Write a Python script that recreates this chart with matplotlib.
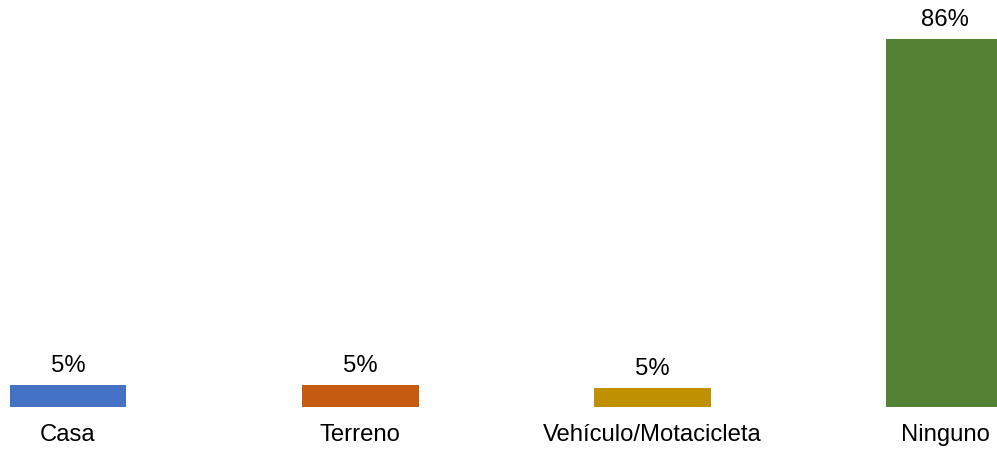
import matplotlib
matplotlib.use("Agg")
from matplotlib import pyplot as plt

# datos del grafico
categorias = ["Casa", "Terreno", "Vehículo/Motacicleta", "Ninguno"]
valores = [5.1, 5.1, 4.4, 86.0]
etiquetas = ["5%", "5%", "5%", "86%"]
colores = ["#4472C4", "#C55A11", "#BF9000", "#548235"]

plt.rcParams['font.family'] = ['Liberation Sans', 'DejaVu Sans']

fig = plt.figure(figsize=(9.97, 4.5), dpi=100)
ax = fig.add_axes([0, 43 / 450, 1, 407 / 450])

x = list(range(len(categorias)))
barras = ax.bar(x, valores, width=0.4, color=colores)
ax.bar_label(barras, labels=etiquetas, padding=6, fontsize=17.2)

ax.set_xlim(-0.2325, 3.178)
ax.set_ylim(0, 95.1)
ax.set_xticks(x)
ax.set_xticklabels(categorias, fontsize=17.2)
ax.tick_params(axis='x', length=0, pad=12)
ax.set_yticks([])
for s in ax.spines.values():
    s.set_visible(False)

plt.savefig("out.png", dpi=100)
